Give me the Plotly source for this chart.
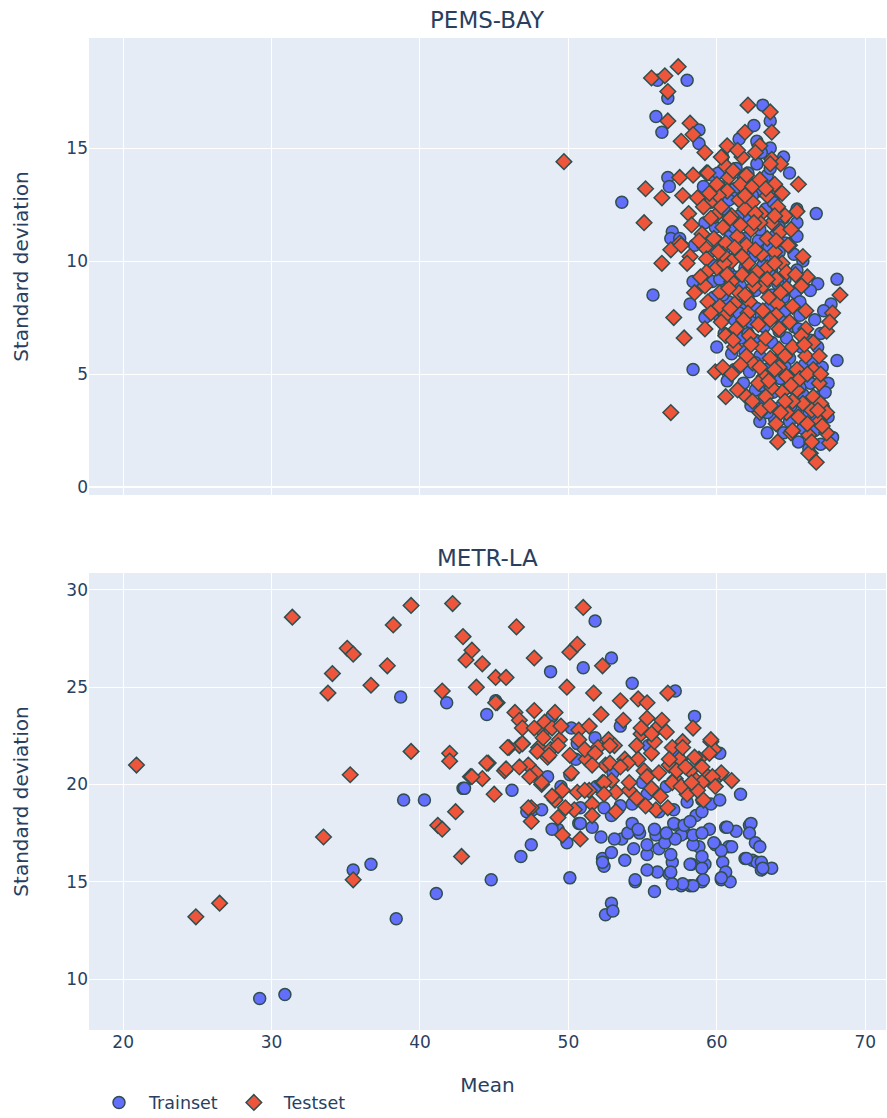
import plotly.graph_objects as go
from plotly.subplots import make_subplots

# ---------------- PEMS-BAY ----------------
pems_test = [
    (49.7, 14.4), (55.6, 18.1), (56.5, 18.2), (57.4, 18.6), (56.7, 17.5), (56.7, 16.2), (58.2, 16.1),
    (58.4, 15.6), (57.6, 15.3), (59.2, 14.8), (62.1, 16.9), (63.6, 16.6), (61.9, 15.7), (63.7, 15.7),
    (62.9, 15.1), (63.7, 14.5), (64.3, 14.3), (60.7, 15.1), (61.7, 14.6), (60.6, 14.2), (59.3, 13.9),
    (65.5, 13.4), (57.5, 13.7), (58.4, 13.8), (55.2, 13.2), (56.3, 12.8), (55.1, 11.7), (57.7, 12.9),
    (58.1, 12.1), (58.3, 11.6), (65.4, 12.2), (57.5, 10.8), (56.9, 10.5), (56.3, 9.9), (64.9, 10.7),
    (65.8, 10.2), (57.1, 7.5), (57.8, 6.6), (56.9, 3.3), (59.9, 5.1), (60.6, 4.0), (68.3, 8.5),
    (64.1, 2.0), (66.3, 1.5), (66.7, 1.1), (67.6, 1.95), (65.0, 2.4), (67.4, 2.4), (62.9, 3.3),
    (67.8, 7.7), (67.4, 6.9), (57.6, 10.7), (58.2, 10.2), (58.0, 9.9), (66.1, 9.3), (65.7, 8.9),
    (66.0, 7.8), (59.4, 13.9), (60.8, 13.7), (61.6, 13.4), (62.4, 13.3), (63.9, 13.4), (63.6, 14.3),
    (58.7, 12.8), (59.7, 12.7), (60.7, 13.1), (61.5, 12.7), (63.4, 12.9), (64.1, 12.4), (59.1, 12.4),
    (59.9, 12.0), (61.0, 12.0), (62.4, 12.6), (63.0, 12.1), (63.7, 11.7), (60.4, 11.5), (61.4, 11.1),
    (62.3, 11.4), (62.9, 11.7), (63.4, 11.0), (63.9, 10.4), (64.8, 10.7), (60.6, 10.8), (62.0, 10.7),
    (59.2, 10.6), (59.3, 10.1), (60.0, 9.7), (61.0, 10.0), (62.1, 9.9), (63.4, 9.7), (64.4, 9.9),
    (64.7, 9.5), (59.3, 9.5), (60.5, 9.9), (61.7, 9.4), (62.7, 9.5), (64.0, 9.2), (59.2, 8.9),
    (60.2, 8.6), (61.0, 9.1), (61.5, 8.6), (63.1, 8.9), (64.7, 8.8), (65.7, 8.9), (58.5, 8.6),
    (59.4, 8.2), (60.2, 8.0), (61.2, 8.1), (62.2, 8.2), (63.1, 7.8), (64.1, 8.1), (65.1, 8.0),
    (64.0, 7.6), (62.1, 7.7), (60.6, 7.6), (59.6, 7.7), (59.2, 7.0), (60.3, 7.3), (60.6, 6.7),
    (61.2, 6.2), (60.4, 5.3), (61.0, 5.0), (61.4, 4.3), (62.0, 4.0), (62.4, 3.8), (63.0, 3.4),
    (64.0, 2.8), (64.7, 3.3), (65.1, 2.5), (66.2, 1.5), (66.2, 2.3), (66.9, 2.9), (65.8, 3.7),
    (66.5, 4.0), (67.4, 3.3), (66.9, 4.6), (66.5, 5.2), (65.4, 4.3), (65.1, 3.8), (64.4, 4.2),
    (63.7, 4.4), (63.2, 4.9), (62.4, 5.5), (62.0, 5.8), (63.0, 6.2), (64.2, 6.1), (65.1, 6.2),
    (66.0, 5.8), (66.9, 5.8), (66.5, 6.4), (67.6, 7.3), (66.0, 7.0), (64.2, 7.0), (63.3, 6.6),
    (62.2, 6.7), (61.3, 7.0), (64.2, 5.3), (65.4, 5.2), (63.3, 4.0), (64.7, 4.9), (61.8, 7.4),
    (62.8, 7.2), (63.6, 5.7), (61.6, 5.4), (62.8, 4.6), (60.9, 11.9), (61.9, 12.3), (60.1, 12.9),
    (62.0, 13.8), (61.1, 14.0), (59.0, 11.2), (61.7, 10.2), (63.0, 10.3), (63.5, 8.4), (62.5, 8.9),
    (60.8, 8.8), (64.3, 11.3), (64.6, 12.0), (62.6, 12.1), (59.8, 11.0), (60.4, 10.3), (61.1, 6.5),
    (65.7, 6.7), (66.4, 3.4), (67.0, 3.7), (65.6, 4.8), (66.1, 2.8), (64.6, 3.8), (63.6, 3.6),
    (60.3, 14.6), (61.4, 14.9), (62.6, 14.8), (60.0, 13.4), (62.9, 13.6), (63.3, 13.2), (64.4, 13.0),
    (59.5, 13.0), (61.9, 12.9), (60.3, 12.4), (62.5, 11.7), (61.6, 11.6), (59.6, 11.9), (63.9, 12.0),
    (64.0, 10.9), (61.2, 10.6), (62.6, 10.5), (60.7, 9.4), (63.9, 9.9), (62.4, 9.2), (64.3, 8.6),
    (61.9, 8.5), (63.4, 9.2), (60.9, 7.9), (63.6, 7.4), (64.9, 7.3), (62.3, 6.3), (64.6, 5.8),
    (65.9, 6.3), (63.9, 5.2), (62.9, 5.3), (66.1, 5.0), (65.0, 4.5), (63.5, 4.7), (64.3, 3.3),
    (65.5, 3.1), (66.4, 2.0), (67.1, 2.7), (66.8, 3.4), (67.0, 5.0), (65.3, 9.4), (65.0, 11.4),
    (60.1, 10.4), (58.8, 10.9), (58.9, 9.3),
]

pems_train = [
    (53.6, 12.6), (55.7, 8.5), (58.0, 18.0), (56.0, 18.0), (56.7, 17.2), (55.9, 16.4), (56.3, 15.7),
    (58.8, 15.8), (58.8, 15.2), (63.1, 16.9), (63.6, 16.2), (62.7, 15.3), (63.6, 15.0), (64.5, 14.6),
    (59.7, 13.8), (62.1, 13.9), (56.7, 13.7), (56.8, 13.3), (59.2, 11.7), (66.7, 12.1), (65.4, 11.7),
    (65.4, 11.1), (57.0, 11.3), (56.9, 11.0), (57.5, 11.0), (58.5, 10.7), (58.4, 9.1), (58.2, 8.1),
    (59.3, 7.6), (59.2, 7.5), (60.0, 6.2), (58.4, 5.2), (60.7, 4.7), (63.2, 3.8), (63.4, 2.4),
    (62.9, 2.9), (68.1, 9.2), (66.8, 9.0), (68.1, 5.6), (67.5, 4.6), (67.5, 3.1), (67.8, 2.2),
    (67.7, 8.1), (67.2, 7.8), (65.8, 10.0), (65.4, 12.3), (64.9, 13.9), (62.5, 16.0), (60.4, 14.6),
    (61.3, 14.1), (62.7, 14.3), (63.4, 13.8), (60.2, 13.3), (61.2, 13.2), (62.8, 13.1), (64.1, 13.0),
    (59.6, 12.6), (60.5, 12.3), (61.5, 12.0), (62.2, 11.9), (63.3, 12.3), (64.5, 11.9), (59.9, 11.5),
    (60.9, 11.1), (61.9, 11.0), (62.8, 10.9), (63.9, 11.1), (64.6, 10.8), (59.5, 10.4), (60.5, 10.5),
    (61.4, 10.3), (62.4, 10.2), (63.2, 10.1), (64.2, 10.4), (65.2, 10.3), (59.8, 9.8), (60.8, 9.5),
    (61.9, 9.7), (62.9, 9.3), (63.7, 9.6), (64.6, 9.2), (65.4, 9.6), (59.7, 9.1), (60.6, 8.9),
    (61.6, 8.9), (62.6, 8.7), (63.7, 8.5), (64.5, 8.4), (65.3, 8.6), (66.3, 8.7), (59.8, 8.4),
    (60.8, 8.2), (61.8, 8.0), (62.7, 7.9), (63.6, 8.0), (64.6, 7.8), (65.6, 7.6), (66.6, 7.4),
    (60.2, 7.5), (61.2, 7.4), (62.3, 7.3), (63.2, 7.1), (64.4, 7.3), (65.2, 7.1), (67.0, 6.8),
    (60.5, 6.8), (61.6, 6.6), (62.6, 6.5), (63.7, 6.4), (64.7, 6.6), (65.7, 6.2), (66.8, 6.2),
    (61.0, 5.9), (61.9, 6.0), (62.9, 5.8), (63.9, 5.6), (64.9, 5.7), (65.9, 5.4), (67.1, 5.3),
    (61.2, 5.2), (62.2, 5.1), (63.3, 5.2), (64.3, 4.8), (65.3, 4.9), (66.3, 4.6), (61.8, 4.6),
    (62.6, 4.3), (63.8, 4.2), (64.8, 4.4), (65.8, 4.1), (66.9, 4.0), (62.3, 3.6), (64.2, 3.5),
    (65.3, 3.4), (66.2, 3.2), (67.2, 3.5), (63.9, 3.0), (64.9, 2.9), (65.8, 2.6), (66.6, 2.5),
    (67.0, 1.9), (65.5, 2.0), (61.1, 12.8), (62.0, 13.0), (60.1, 13.9), (63.0, 14.8), (61.5, 15.4),
    (59.1, 13.3), (61.8, 13.7), (63.6, 14.1), (60.8, 12.7), (62.4, 12.9), (63.8, 12.6), (61.2, 11.5),
    (62.9, 11.4), (64.2, 11.5), (60.0, 10.9), (61.9, 10.5), (63.5, 10.6), (60.2, 9.2), (61.2, 9.3),
    (63.1, 9.8), (64.1, 9.0), (60.4, 8.5), (62.1, 8.4), (64.0, 8.3), (65.6, 8.2), (61.5, 7.7),
    (63.0, 7.6), (65.5, 7.0), (62.1, 6.8), (64.2, 6.9), (66.3, 6.5), (62.6, 5.5), (64.6, 5.3),
    (66.4, 5.6), (63.0, 4.5), (65.6, 4.4), (67.3, 4.2), (63.4, 3.3), (65.0, 3.6), (66.7, 3.0),
    (64.5, 2.4), (66.2, 1.7),
]

# ---------------- METR-LA ----------------
metr_test = [
    (20.9, 21.0), (24.9, 13.2), (26.5, 13.9), (31.4, 28.6), (33.5, 17.3), (33.8, 24.7), (34.1, 25.7),
    (35.1, 27.0), (35.5, 26.7), (35.3, 20.5), (35.5, 15.1), (36.7, 25.1), (37.8, 26.1), (38.2, 28.2),
    (39.4, 21.7), (39.4, 29.2), (41.2, 17.9), (41.5, 17.7), (41.5, 24.8), (42.0, 21.6), (42.0, 21.2),
    (42.2, 29.3), (42.4, 18.6), (42.8, 16.3), (42.9, 27.6), (43.1, 26.4), (43.5, 26.9), (43.4, 20.4),
    (43.8, 25.0), (44.2, 26.2), (44.2, 20.3), (44.6, 21.1), (45.1, 25.5), (45.2, 24.2), (45.0, 19.5),
    (45.8, 25.5), (46.0, 21.9), (45.7, 20.7), (46.4, 23.7), (46.5, 28.1), (46.7, 23.3), (46.7, 22.0),
    (46.9, 22.1), (47.3, 21.0), (47.5, 18.8), (47.5, 18.1), (47.7, 26.5), (47.7, 23.8), (47.8, 20.6),
    (48.0, 21.9), (48.2, 20.0), (48.3, 22.7), (48.4, 23.2), (48.6, 21.4), (48.8, 21.8), (49.1, 23.7),
    (49.1, 19.2), (49.4, 22.3), (49.6, 17.4), (49.6, 19.7), (49.9, 25.0), (50.1, 26.8), (50.1, 21.5),
    (50.4, 18.7), (50.6, 27.2), (50.7, 22.8), (50.8, 17.2), (51.0, 29.1), (51.2, 21.3), (51.4, 19.7),
    (51.7, 24.7), (52.0, 21.9), (52.3, 26.1), (52.2, 23.6), (52.5, 21.0), (52.8, 22.1), (52.9, 20.2),
    (53.2, 19.6), (53.5, 24.3), (53.7, 23.3), (53.8, 21.3), (54.1, 19.7), (54.6, 22.0), (54.7, 24.4),
    (54.9, 22.6), (55.1, 20.7), (55.3, 24.2), (55.3, 23.4), (55.6, 21.6), (55.8, 22.2), (55.9, 18.7),
    (56.1, 23.0), (56.3, 23.3), (56.7, 24.7), (56.8, 21.0), (57.0, 21.9), (57.2, 20.3), (57.5, 21.3),
    (57.7, 22.2), (58.0, 19.5), (58.2, 20.7), (58.4, 22.9), (58.6, 20.2), (58.8, 21.3), (59.1, 19.2),
    (59.4, 20.4), (59.6, 22.2), (59.8, 21.8), (60.2, 20.5), (61.0, 20.2), (54.9, 22.9), (55.6, 22.6),
    (56.6, 22.7), (52.7, 22.3), (53.1, 22.0), (57.7, 21.9), (59.6, 22.3), (59.5, 21.6), (58.5, 21.4),
    (56.8, 21.3), (54.7, 21.3), (54.0, 21.1), (52.8, 21.1), (57.3, 20.7), (59.0, 20.9), (60.3, 20.6),
    (55.3, 20.4), (56.1, 20.6), (52.3, 20.1), (54.1, 20.1), (57.0, 20.1), (59.0, 20.1), (59.7, 20.4),
    (45.1, 24.2), (46.9, 22.9), (47.7, 22.9), (48.9, 22.9), (49.5, 23.0), (51.4, 23.0), (45.9, 21.9),
    (46.9, 22.1), (47.9, 21.7), (48.3, 22.4), (48.7, 21.5), (49.3, 22.0), (50.7, 22.3), (51.1, 21.8),
    (51.8, 21.6), (52.8, 22.0), (44.5, 21.1), (45.8, 20.8), (46.7, 20.9), (47.4, 20.4), (43.5, 20.4),
    (48.2, 20.1), (50.2, 20.6), (51.6, 21.0), (52.4, 20.1), (47.3, 18.8), (49.3, 18.3), (49.8, 18.8),
    (48.9, 19.4), (50.6, 19.6), (51.1, 19.7), (51.6, 19.0), (52.4, 19.5), (51.6, 18.4), (53.5, 20.9),
    (54.6, 19.3), (55.6, 19.8), (56.2, 19.4), (57.6, 19.9), (58.7, 19.7), (53.2, 18.6), (55.2, 18.9),
    (56.7, 18.8), (57.9, 20.9), (59.9, 19.9), (58.3, 20.1),
]

metr_train = [
    (29.2, 9.0), (30.9, 9.2), (35.5, 15.6), (36.7, 15.9), (38.4, 13.1), (38.7, 24.5), (38.9, 19.2),
    (40.3, 19.2), (41.1, 14.4), (41.8, 24.2), (42.9, 19.8), (44.5, 23.6), (44.8, 15.1), (45.1, 24.3),
    (46.2, 19.7), (46.8, 16.3), (47.2, 18.6), (47.5, 16.9), (48.8, 25.8), (49.3, 17.7), (50.1, 15.2),
    (50.2, 22.9), (50.6, 22.1), (51.0, 26.0), (50.7, 18.0), (51.8, 28.4), (52.3, 16.2), (52.4, 15.8),
    (52.5, 13.3), (52.9, 26.5), (52.9, 13.9), (53.0, 13.5), (53.6, 17.2), (53.8, 16.1), (54.3, 25.2),
    (54.5, 15.0), (54.8, 17.5), (55.3, 16.4), (55.8, 14.5), (55.9, 17.4), (56.1, 16.7), (56.5, 17.0),
    (56.8, 15.4), (57.0, 16.0), (57.2, 24.8), (57.3, 17.9), (57.6, 14.8), (57.8, 17.5), (58.2, 14.8),
    (58.3, 15.9), (58.5, 23.5), (58.6, 18.4), (58.8, 16.8), (59.0, 15.0), (59.2, 15.9), (59.5, 17.7),
    (59.6, 19.0), (59.9, 16.9), (60.2, 21.6), (60.2, 19.2), (60.3, 15.1), (60.4, 16.0), (60.6, 17.8),
    (60.8, 16.8), (60.9, 15.0), (61.3, 17.6), (61.6, 19.5), (61.9, 16.2), (62.2, 17.9), (62.4, 16.1),
    (62.7, 16.0), (63.0, 15.6), (63.7, 15.7), (53.5, 23.0), (48.9, 23.5), (43.0, 19.8), (52.9, 18.4),
    (53.1, 17.2), (52.9, 16.5), (49.9, 17.0), (48.9, 17.7), (50.8, 18.0), (51.6, 17.8), (52.2, 17.3),
    (47.6, 18.7), (48.2, 18.7), (50.8, 18.8), (52.4, 18.8), (59.0, 18.6), (60.7, 17.8), (62.3, 18.0),
    (62.2, 17.5), (61.0, 16.8), (62.6, 17.0), (62.9, 16.8), (62.0, 16.2), (63.0, 16.0), (63.1, 15.7),
    (60.3, 16.6), (60.6, 15.5), (60.3, 15.2), (59.8, 17.0), (59.0, 15.7), (59.1, 15.1), (58.4, 14.8),
    (57.7, 14.9), (57.0, 14.9), (56.9, 15.5), (58.2, 15.9), (59.0, 16.3), (58.4, 16.9), (58.4, 17.4),
    (57.6, 17.4), (57.2, 17.2), (56.9, 16.4), (56.0, 15.5), (55.3, 15.6), (54.5, 15.1), (55.3, 16.9),
    (54.4, 16.7), (52.3, 16.0), (54.0, 17.5), (54.3, 18.0), (54.7, 17.7), (55.8, 17.7), (56.6, 17.5),
    (57.1, 18.0), (57.8, 17.9), (58.2, 18.1), (59.0, 17.5), (55.3, 19.5), (54.3, 19.0), (56.1, 18.6),
    (57.1, 18.7), (58.0, 19.1), (59.0, 19.2), (53.5, 18.9), (51.9, 19.9), (50.1, 20.5), (49.5, 19.9),
    (53.0, 20.6), (55.0, 20.1), (56.6, 19.9), (58.6, 19.8), (48.6, 20.4), (50.5, 21.3), (55.4, 22.0),
    (57.4, 21.6), (51.8, 22.4),
]

pt_x = [p[0] for p in pems_train]
pt_y = [p[1] for p in pems_train]
ps_x = [p[0] for p in pems_test]
ps_y = [p[1] for p in pems_test]
mt_x = [p[0] for p in metr_train]
mt_y = [p[1] for p in metr_train]
ms_x = [p[0] for p in metr_test]
ms_y = [p[1] for p in metr_test]

FONT = "DejaVu Sans"
TXT = "#2a3f5f"

fig = make_subplots(rows=2, cols=1, shared_xaxes=True, vertical_spacing=0.0786,
                    subplot_titles=("PEMS-BAY", "METR-LA"))

train_marker = dict(symbol="circle", size=12, color="#636efa",
                    line=dict(width=1.5, color="darkslategrey"))
test_marker = dict(symbol="diamond", size=12, color="#EF553B",
                   line=dict(width=1.5, color="darkslategrey"))

fig.add_trace(go.Scatter(x=pt_x, y=pt_y, mode="markers", name="Trainset",
                         marker=train_marker, legendgroup="train"), row=1, col=1)
fig.add_trace(go.Scatter(x=ps_x, y=ps_y, mode="markers", name="Testset",
                         marker=test_marker, legendgroup="test"), row=1, col=1)
fig.add_trace(go.Scatter(x=mt_x, y=mt_y, mode="markers", name="Trainset",
                         marker=train_marker, legendgroup="train", showlegend=False), row=2, col=1)
fig.add_trace(go.Scatter(x=ms_x, y=ms_y, mode="markers", name="Testset",
                         marker=test_marker, legendgroup="test", showlegend=False), row=2, col=1)

fig.update_layout(
    template="plotly",
    width=887, height=1118,
    margin=dict(l=89, r=1, t=38, b=88, autoexpand=False),
    font=dict(family=FONT, size=17, color=TXT),
    legend=dict(orientation="h", x=0.0, xanchor="left", y=-0.055, yanchor="top",
                font=dict(size=17.5), itemwidth=50),
)
fig.update_annotations(font=dict(family=FONT, size=23, color=TXT))
fig.layout.annotations[0].yshift = 3

fig.update_xaxes(range=[17.7, 71.4], dtick=10, tickfont=dict(size=17))
fig.update_xaxes(title=dict(text="Mean", font=dict(size=20), standoff=26), row=2, col=1)
fig.update_yaxes(title=dict(text="Standard deviation", font=dict(size=20), standoff=32),
                 tickfont=dict(size=17))
fig.update_yaxes(range=[-0.35, 19.87], dtick=5, row=1, col=1)
fig.update_yaxes(range=[7.38, 30.87], dtick=5, row=2, col=1)

fig.write_html("out.html")
